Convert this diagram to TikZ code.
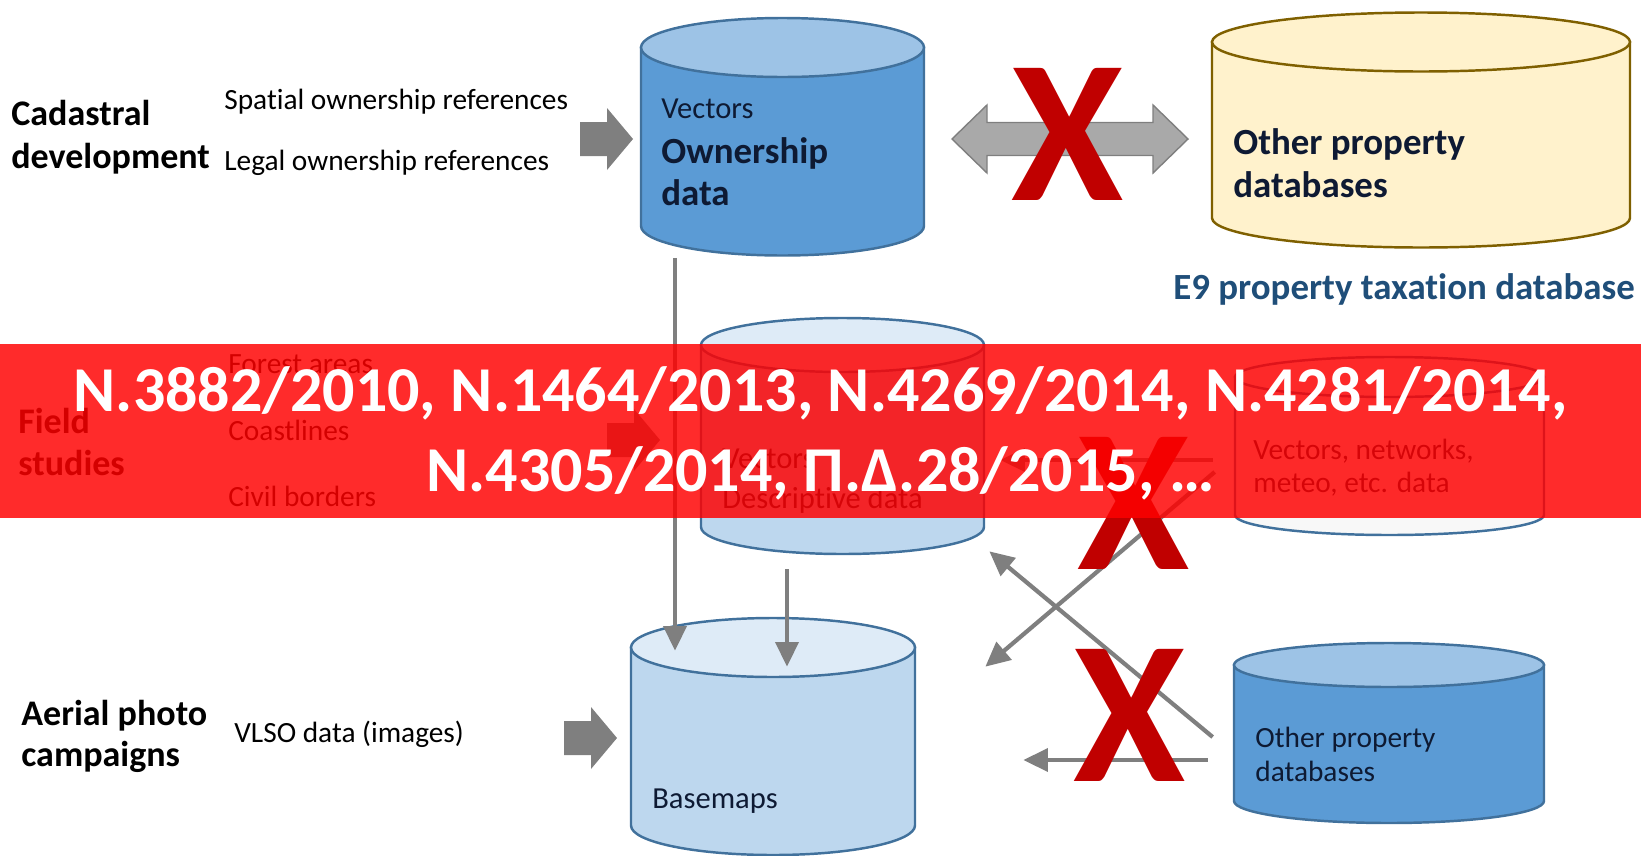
\documentclass[tikz,border=0pt]{standalone}
\usepackage{fontspec}
\setmainfont{Carlito}[Ligatures={NoCommon,NoContextual},Contextuals=NoAlternate]
\usetikzlibrary{arrows.meta,calc,fit}

\definecolor{dbdark}{HTML}{5B9BD5}
\definecolor{dbdarklid}{HTML}{9DC3E6}
\definecolor{dblight}{HTML}{BDD7EE}
\definecolor{dblightlid}{HTML}{DEEBF7}
\definecolor{dbedge}{HTML}{41719C}
\definecolor{dbyellow}{HTML}{FFF2CC}
\definecolor{dbyellowedge}{HTML}{7F6000}
\definecolor{dbwhite}{HTML}{F8F8F8}
\definecolor{arrowgray}{HTML}{7F7F7F}
\definecolor{dblgray}{HTML}{A9A9A9}
\definecolor{navytext}{HTML}{0E1A33}
\definecolor{etitle}{HTML}{1F4E79}
\definecolor{crossred}{HTML}{C00000}

\tikzset{
  lbl/.style={anchor=base west, inner sep=0pt, font=\fontsize{16.7}{20}\selectfont},
  grouplbl/.style={anchor=base west, inner sep=0pt, font=\bfseries\fontsize{20.5}{24}\selectfont},
  cyltxt/.style={anchor=base west, inner sep=0pt, text=navytext, font=\fontsize{17.4}{21}\selectfont},
  cylbold/.style={cyltxt, font=\bfseries\fontsize{21}{25}\selectfont},
  flow/.style={draw=arrowgray, line width=2.4pt, -{Triangle[length=14pt,width=13pt]}},
  blockarr/.style={fill=arrowgray},
  xmark/.style={inner sep=0pt, text=crossred, font=\bfseries\fontsize{116}{116}\selectfont},
  banner/.style={fill=red, fill opacity=0.83},
  bannertxt/.style={anchor=base, inner sep=0pt, text=white, font=\bfseries\fontsize{36.4}{44}\selectfont}
}

% database drum: (cx,top:bottom:rx:ry)[edge][body][lid]{name}
\def\dbcyl(#1,#2:#3:#4:#5)[#6][#7][#8]#9{%
  \filldraw[draw=#6, fill=#7, line width=1.4pt] ({#1-#4},#2) -- ({#1-#4},#3) arc[start angle=180, end angle=0, x radius=#4, y radius=#5] -- ({#1+#4},#2) -- cycle;
  \filldraw[draw=#6, fill=#8, line width=1.4pt] (#1,#2) ellipse [x radius=#4, y radius=#5];
  \node[fit={({#1-#4},{#2-#5}) ({#1+#4},{#3+#5})}, inner sep=0pt] (#9) {};
}
% fat arrow: (left end, middle)
\def\blockarrow(#1,#2){\fill[blockarr] (#1,#2) ++(0,-17) -- ++(27,0) -- ++(0,-14) -- ++(26,31) -- ++(-26,31) -- ++(0,-14) -- ++(-27,0) -- cycle;}

\begin{document}
\begin{tikzpicture}[x=0.02cm, y=-0.02cm]
\useasboundingbox (0,0) rectangle (1641,856);

%%% databases
\dbcyl(782.5,47.5:226:141.5:29.5)[dbedge][dbdark][dbdarklid]{own}
\dbcyl(1421,42:218:209:29.5)[dbyellowedge][dbyellow][dbyellow]{tax}
\dbcyl(842.5,345:527:141.5:27)[dbedge][dblight][dblightlid]{desc}
\dbcyl(1389.5,377:515:154.5:20)[dbedge][dbwhite][dbwhite]{ext}
\dbcyl(773,647.5:825.5:142:29.5)[dbedge][dblight][dblightlid]{base}
\dbcyl(1389,665:801:155:22)[dbedge][dbdark][dbdarklid]{other}

%%% inputs
\blockarrow(580,139)
\blockarrow(607,440)
\blockarrow(564,738)
\filldraw[draw=arrowgray, fill=dblgray, line width=0.8pt] (952,139) -- (987,105) -- (987,122.5) -- (1153,122.5) -- (1153,105) -- (1188,139) -- (1153,173) -- (1153,155.5) -- (987,155.5) -- (987,173) -- cycle;

%%% links
\draw[flow] ($(own.south)+(-107.5,2)$) -- ($(base.north)+(-98,33)$);
\draw[flow] ($(desc.south)+(-55.5,15)$) -- ($(base.north)+(14,49)$);
\draw[flow] ($(ext.west)+(-22,14)$) -- ($(desc.east)+(16,24)$);
\draw[flow] ($(ext.west)+(-20,26)$) -- ($(base.north east)+(70,49)$);
\draw[flow] ($(other.west)+(-21,4)$) -- ($(desc.south east)+(5,-3)$);
\draw[flow] ($(other.west)+(-26,27)$) -- ($(base.east)+(108,23.5)$);

%%% texts
\node[grouplbl] (cad) at (11,125) {Cadastral};
\node[grouplbl] (cad2) at (11,168) {development};
\node[lbl] (spatial) at (224,109) {Spatial ownership references};
\node[lbl] (legal) at (224,170) {Legal ownership references};
\node[cyltxt] (ownv) at (661,118) {Vectors};
\node[cylbold] (ownb) at (661,163.5) {Ownership};
\node[cylbold] (ownc) at (661,205) {data};
\node[cylbold] (taxa) at (1233,154) {Other property};
\node[cylbold] (taxb) at (1233,197) {databases};
\node[cylbold, text=etitle] (e9) at (1173,299) {E9 property taxation database};

\node[grouplbl] (field) at (18,433) {Field};
\node[grouplbl] (field2) at (18,475) {studies};
\node[lbl] (forest) at (228,373) {Forest areas};
\node[lbl] (coast) at (228,440) {Coastlines};
\node[lbl] (civil) at (228,506) {Civil borders};
\node[cyltxt] (descv) at (722,468) {Vectors};
\node[cyltxt] (descd) at (722,508) {Descriptive data};
\node[lbl, text=navytext] (extv) at (1253,459) {Vectors, networks,};
\node[lbl, text=navytext] (extm) at (1253,492) {meteo, etc. data};

\node[grouplbl] (aer) at (21,725) {Aerial photo};
\node[grouplbl] (aer2) at (21,766) {campaigns};
\node[lbl] (vlso) at (234,742) {VLSO data (images)};
\node[cyltxt] (basev) at (652,808) {Basemaps};
\node[lbl, text=navytext] (otha) at (1255,747) {Other property};
\node[lbl, text=navytext] (othb) at (1255,781) {databases};

%%% crosses
\node[xmark] (cross1) at (1067.5,134) {X};
\node[xmark] (cross2) at (1134,503.5) {X};
\node[xmark] (cross3) at (1130,715) {X};

%%% legal banner
\fill[banner] (0,344) rectangle (1641,518);
\node[bannertxt] (law1) at (820.5,411) {N.3882/2010, N.1464/2013, N.4269/2014, N.4281/2014,};
\node[bannertxt] (law2) at (820.5,491) {N.4305/2014, Π.Δ.28/2015, …};
\end{tikzpicture}
\end{document}
